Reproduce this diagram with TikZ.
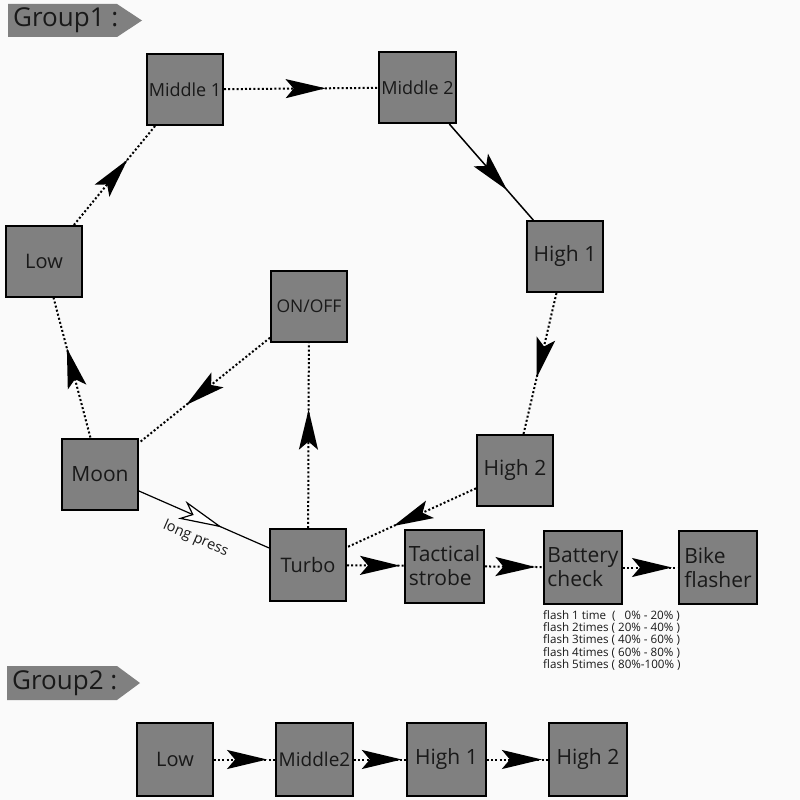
\documentclass[tikz,border=0pt]{standalone}
\usepackage{fontspec}
\setmainfont{Open Sans}
\usetikzlibrary{arrows.meta,decorations.markings}
\definecolor{boxgray}{RGB}{128,128,128}
\definecolor{bgc}{RGB}{250,250,250}
\definecolor{txt}{RGB}{25,25,25}
\newcommand\fz[2]{\fontsize{#1}{#2}\selectfont}
\tikzset{
  bigdart/.tip={Stealth[length=40pt,width=19pt,inset=8pt]},
  opendart/.tip={Stealth[length=44pt,width=19pt,inset=11pt,fill=white]},
  box/.style={draw=black, line width=2pt, fill=boxgray, minimum width=76pt,
    minimum height=71pt, inner sep=0pt, text=txt, font=\fz{20}{24}},
  dotline/.style={line width=2pt, dash pattern=on 2pt off 2.2pt},
  solidline/.style={line width=1.5pt},
  marr/.style={postaction={decorate,decoration={markings,
    mark=at position #1 with {\arrow{bigdart}}}}},
  mopen/.style={postaction={decorate,decoration={markings,
    mark=at position #1 with {\arrow{opendart}}}}},
  tag/.style={fill=boxgray},
  tagtext/.style={anchor=west, inner sep=0pt, text=txt, font=\fz{26}{30}}
}
\begin{document}
\begin{tikzpicture}[x=1pt,y=-1pt]
\fill[bgc] (0,0) rectangle (800,800);
\useasboundingbox (0,0) rectangle (800,800);

% group tags
\fill[tag] (8,4) -- (117,4) -- (142,20.5) -- (117,37) -- (8,37) -- cycle;
\node[tagtext] (g1) at (13,20.5) {Group1 :};
\fill[tag] (7,666) -- (117,666) -- (140,683) -- (117,700) -- (7,700) -- cycle;
\node[tagtext] (g2) at (12,683) {Group2 :};

% group 1 nodes
\node[box, font=\fz{18}{22}] (m1) at (185,89.5) {Middle 1};
\node[box, font=\fz{18}{22}, minimum width=77pt] (m2) at (417.5,87.5) {Middle 2};
\node[box, font=\fz{21}{24}] (h1) at (565,256.5) {High 1};
\node[box] (low) at (44,261.5) {Low};
\node[box, font=\fz{17.5}{21}] (onoff) at (309,306.5) {ON/OFF};
\node[box, font=\fz{21}{24}] (moon) at (100,474) {Moon};
\node[box, font=\fz{21}{24}] (h2) at (515,470.5) {High 2};
\node[box, minimum height=72pt] (turbo) at (308,565) {Turbo};
\node[box, font=\fz{21}{24}, align=left, minimum width=79pt, minimum height=73pt] (tac) at (444.5,566) {Tactical\\strobe};
\node[box, font=\fz{21}{24}, align=left, minimum width=78pt, minimum height=73pt] (bat) at (583,567.5) {Battery\\check};
\node[box, font=\fz{21}{24}, align=left, minimum width=78pt, minimum height=73pt] (bike) at (718,567.5) {Bike\\flasher};

\node[anchor=north west, inner sep=0pt, align=left, text=txt, font=\fz{11.6}{12.2}] (batnote) at (543,610.5)
{flash 1 time\ \ (\ \ \ 0\% - 20\% )\\
flash 2times ( 20\% - 40\% )\\
flash 3times ( 40\% - 60\% )\\
flash 4times ( 60\% - 80\% )\\
flash 5times ( 80\%-100\% )};

% group 2 nodes
\node[box, minimum height=73pt] (low2) at (175,759.5) {Low};
\node[box, font=\fz{19}{23}, minimum width=77pt, minimum height=73pt] (mid2b) at (314.5,759.5) {Middle2};
\node[box, font=\fz{21}{24}, minimum width=79pt, minimum height=73pt] (h1b) at (446.5,759.5) {High 1};
\node[box, font=\fz{21}{24}, minimum width=78pt, minimum height=73pt] (h2b) at (588,759.5) {High 2};

% group 1 connectors
\draw[dotline, marr=0.66] (m1) -- (m2);
\draw[solidline, marr=0.69] (m2) -- (h1);
\draw[dotline, marr=0.60] (h1) -- (h2);
\draw[dotline, marr=0.64] (h2) -- (turbo);
\draw[dotline, marr=0.64] (turbo) -- (onoff);
\draw[dotline, marr=0.64] (onoff) -- (moon);
\draw[dotline, marr=0.64] (moon) -- (low);
\draw[dotline, marr=0.66] (low) -- (m1);
\draw[line width=1.2pt, mopen=0.64] (moon) -- node[sloped, below=13pt, inner sep=0pt, text=txt, font=\fz{14.5}{16}] (lp) {long press} (turbo);
\draw[dotline, marr=0.93] (turbo) -- (tac);
\draw[dotline, marr=0.87] (tac) -- (bat);
\draw[dotline, marr=0.89] (bat) -- (bike);

% group 2 connectors
\draw[dotline, marr=0.87] (low2) -- (mid2b);
\draw[dotline, marr=0.92] (mid2b) -- (h1b);
\draw[dotline, marr=0.90] (h1b) -- (h2b);
\end{tikzpicture}
\end{document}
